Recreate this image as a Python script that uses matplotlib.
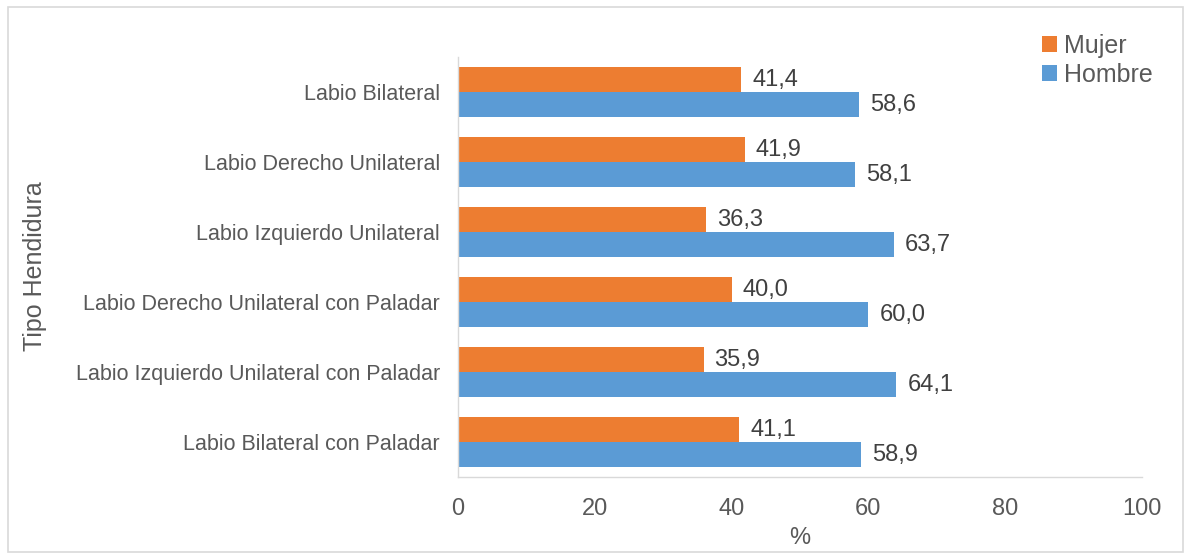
import matplotlib
matplotlib.use('Agg')
import matplotlib.pyplot as plt
from matplotlib.patches import Rectangle
import numpy as np

plt.rcParams['font.family'] = ['Liberation Sans', 'DejaVu Sans']

categories = [
    'Labio Bilateral',
    'Labio Derecho Unilateral',
    'Labio Izquierdo Unilateral',
    'Labio Derecho Unilateral con Paladar',
    'Labio Izquierdo Unilateral con Paladar',
    'Labio Bilateral con Paladar',
]
mujer = [41.4, 41.9, 36.3, 40.0, 35.9, 41.1]
hombre = [58.6, 58.1, 63.7, 60.0, 64.1, 58.9]

text_color = '#595959'
orange = '#ED7D31'
blue = '#5B9BD5'
line_gray = '#D9D9D9'

fig = plt.figure(figsize=(11.86, 5.6), dpi=100)
ax = fig.add_axes([458 / 1186, 1 - 477 / 560, (1142 - 458) / 1186, (477 - 57) / 560])

y = np.arange(len(categories))
h = 0.357
bm = ax.barh(y - h / 2, mujer, height=h, color=orange, label='Mujer')
bh = ax.barh(y + h / 2, hombre, height=h, color=blue, label='Hombre')

for bars, vals in ((bm, mujer), (bh, hombre)):
    for bar, v in zip(bars, vals):
        ax.text(v + 1.6, bar.get_y() + bar.get_height() / 2 + 0.01,
                f'{v:.1f}'.replace('.', ','), va='center', ha='left',
                fontsize=17, color='#404040')

ax.set_xlim(0, 100)
ax.set_ylim(len(categories) - 0.5, -0.5)
ax.set_xticks([0, 20, 40, 60, 80, 100])
ax.set_yticks(y)
ax.set_yticklabels(categories)
ax.tick_params(axis='x', length=0, labelsize=17, labelcolor=text_color, pad=15)
ax.tick_params(axis='y', length=0, labelsize=15.5, labelcolor=text_color, pad=13)

for s in ('top', 'right'):
    ax.spines[s].set_visible(False)
ax.spines['left'].set_color(line_gray)
ax.spines['bottom'].set_color(line_gray)
ax.spines['left'].set_linewidth(1.0)
ax.spines['bottom'].set_linewidth(1.0)

ax.set_xlabel('%', fontsize=17, color=text_color, labelpad=5)
fig.text(35 / 1186, 1 - 266 / 560, 'Tipo Hendidura', rotation=90, va='center',
         ha='center', fontsize=18, color=text_color)

fig.legend(handles=[bm, bh], labels=['Mujer', 'Hombre'], loc='upper left',
           bbox_to_anchor=(1042 / 1186, 1 - 34 / 560), frameon=False,
           fontsize=18, labelcolor=text_color, handlelength=0.6, handleheight=0.6,
           handletextpad=0.3, labelspacing=0.2, borderpad=0, borderaxespad=0)

fig.patches.append(Rectangle((8 / 1186, 8 / 560), 1175 / 1186, 545 / 560,
                             transform=fig.transFigure, fill=False,
                             edgecolor=line_gray, linewidth=1.2))

fig.savefig('out.png')
